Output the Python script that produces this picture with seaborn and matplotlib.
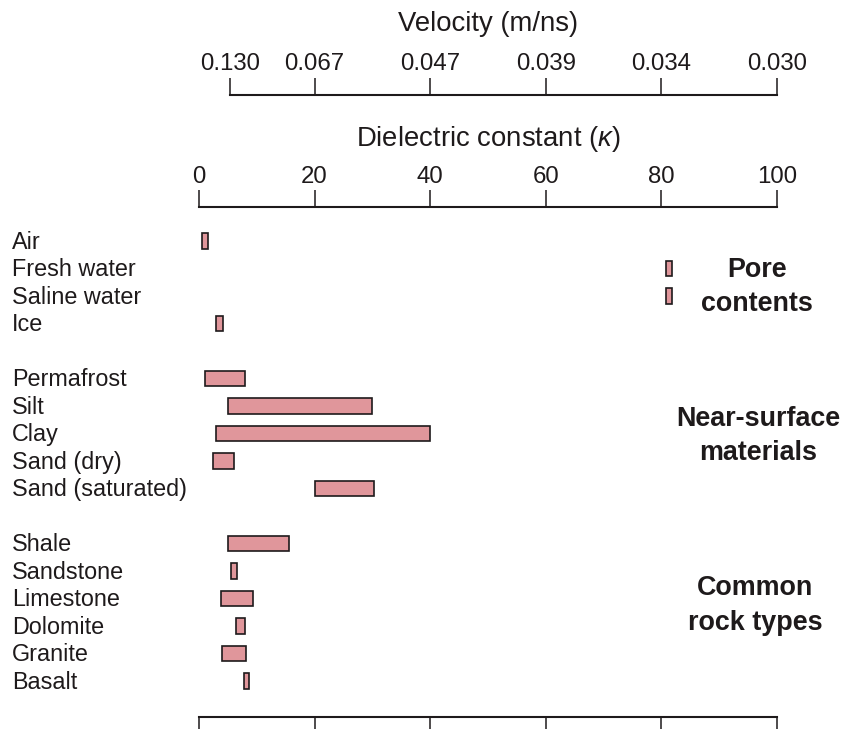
import numpy as np
import pandas as pd
import matplotlib
matplotlib.use("Agg")
import matplotlib.pyplot as plt
import matplotlib.transforms as mtrans
import seaborn as sns

# ---------------- data ----------------
pore_materials = ["Air", "Fresh water", "Saline water", "Ice"]
pore_low = [0.6, 80.8, 80.8, 2.9]
pore_high = [1.6, 81.8, 81.8, 4.1]

near_materials = ["Permafrost", "Silt", "Clay", "Sand (dry)", "Sand (saturated)"]
near_low = [1.0, 5.0, 3.0, 2.5, 20.0]
near_high = [8.0, 30.0, 40.0, 6.1, 30.2]

rock_materials = ["Shale", "Sandstone", "Limestone", "Dolomite", "Granite", "Basalt"]
rock_low = [5.0, 5.5, 3.8, 6.4, 3.9, 7.8]
rock_high = [15.6, 6.5, 9.3, 8.0, 8.1, 8.6]

group_names = ["Pore\ncontents", "Near-surface\nmaterials", "Common\nrock types"]

kappa_ticks = [0, 20, 40, 60, 80, 100]
velocity_tick_kappa = [5.3, 20, 40, 60, 80, 100]
velocity_labels = ["0.130", "0.067", "0.047", "0.039", "0.034", "0.030"]

# ---------------- table ----------------
groups = [(pore_materials, pore_low, pore_high),
          (near_materials, near_low, near_high),
          (rock_materials, rock_low, rock_high)]
rows = []
pos = 0
for gi, (mats, lo, hi) in enumerate(groups):
    for m, l, h in zip(mats, lo, hi):
        rows.append(dict(material=m, low=l, high=h, width=h - l, pos=pos, group=gi))
        pos += 1
    pos += 1  # blank row between groups
df = pd.DataFrame(rows)

# ---------------- style ----------------
sns.set_theme(style="white")
plt.rcParams["font.family"] = ["Liberation Sans", "DejaVu Sans"]
plt.rcParams["mathtext.fontset"] = "custom"
plt.rcParams["mathtext.it"] = "Liberation Sans:italic"
plt.rcParams["mathtext.rm"] = "Liberation Sans"
INK = "#1e1a1b"
BAR = "#E0969B"

W, H = 844, 729
fig = plt.figure(figsize=(W / 100, H / 100), dpi=100)

x0, x1 = 199, 777
y_top, y_bot = 207, 717
ax = fig.add_axes([x0 / W, (H - y_bot) / H, (x1 - x0) / W, (y_bot - y_top) / H])

sns.barplot(data=df, x="width", y="pos", orient="h", native_scale=True,
            color=BAR, edgecolor=INK, linewidth=1.2, width=0.58,
            saturation=1, ax=ax, errorbar=None)
# shift floating bars to their lower bound
positions = df["pos"].to_numpy()
for p in ax.patches:
    yc = p.get_y() + p.get_height() / 2
    i = int(np.argmin(np.abs(positions - yc)))
    p.set_x(df["low"].iloc[i])
    p.set_width(df["width"].iloc[i])

ax.set_xlim(0, 100)
ax.set_ylim(17.31, -1.236)
ax.set_ylabel("")
ax.set_yticks([])
for s in ["left", "right"]:
    ax.spines[s].set_visible(False)
for s in ["top", "bottom"]:
    ax.spines[s].set_linewidth(1.5)
    ax.spines[s].set_color(INK)
ax.set_xticks(kappa_ticks)
ax.set_xticklabels([str(t) for t in kappa_ticks])
ax.tick_params(axis="x", which="major", top=True, bottom=True, labeltop=True,
               labelbottom=False, direction="out", length=12.5, width=1.1,
               color=INK, labelcolor=INK, labelsize=17.3, pad=1.5)
ax.xaxis.set_label_position("top")
ax.set_xlabel(r"Dielectric constant ($\kappa$)", fontsize=19.8, color=INK, labelpad=14)

# row labels
trans = mtrans.blended_transform_factory(fig.transFigure, ax.transData)
for _, r in df.iterrows():
    ax.text(12 / W, r["pos"] + 0.05, r["material"], transform=trans, ha="left",
            va="center", fontsize=16.8, color=INK)

# group labels
group_x = [96.5, 96.7, 96.2]
group_y = [1.68, 7.1, 13.25]
for name, gx, gy in zip(group_names, group_x, group_y):
    ax.text(gx, gy, name, ha="center", va="center", fontsize=19.4,
            fontweight="bold", color=INK, linespacing=1.42, multialignment="center")

# velocity axis
y_vel = 95
vax = fig.add_axes([x0 / W, (H - y_vel) / H, (x1 - x0) / W, 0.0001])
vax.set_xlim(0, 100)
vax.set_yticks([])
vax.patch.set_visible(False)
for s in ["left", "right", "bottom"]:
    vax.spines[s].set_visible(False)
vax.spines["top"].set_linewidth(1.5)
vax.spines["top"].set_color(INK)
vax.spines["top"].set_bounds(velocity_tick_kappa[0], velocity_tick_kappa[-1])
vax.set_xticks(velocity_tick_kappa)
vax.set_xticklabels(velocity_labels)
vax.tick_params(axis="x", top=True, bottom=False, labeltop=True, labelbottom=False,
                direction="out", length=12.5, width=1.1, color=INK,
                labelcolor=INK, labelsize=17.3, pad=1.5)
vax.xaxis.set_label_position("top")
vax.set_xlabel("Velocity (m/ns)", fontsize=19.8, color=INK, labelpad=16)

fig.savefig("out.png", dpi=100, facecolor="white")
